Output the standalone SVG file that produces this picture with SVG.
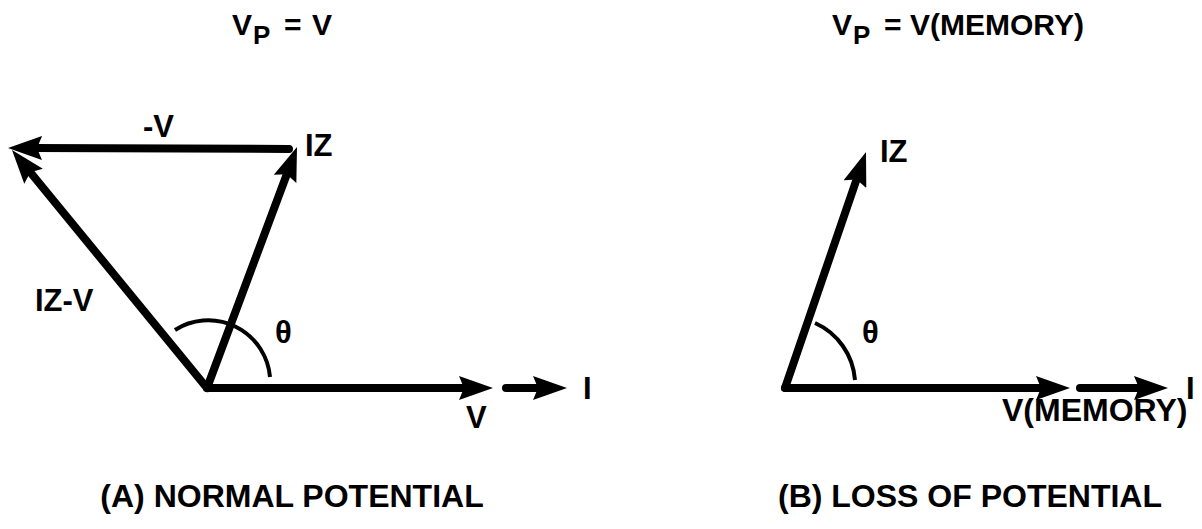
<svg xmlns="http://www.w3.org/2000/svg" width="1202" height="529" viewBox="0 0 1202 529">
<style>
  text { font-family: "Liberation Sans", Arial, sans-serif; font-weight: bold; fill: #000; font-size: 31px; }
  .ttl { font-size: 30px; }
  .sub { font-size: 26px; }
  .cap { font-size: 32px; }
  .vec { stroke: #000; stroke-width: 8; fill: none; stroke-linecap: round; marker-end: url(#ah); }
  .arc { stroke: #000; stroke-width: 4; fill: none; }
</style>
<defs>
  <marker id="ah" viewBox="0 0 34 24" refX="10" refY="12" markerWidth="34" markerHeight="24" markerUnits="userSpaceOnUse" orient="auto">
    <path d="M0,0 L34,12 L0,24 L5,12 Z" fill="#000"/>
  </marker>
</defs>
<rect width="1202" height="529" fill="#fff"/>

<g id="title-a">
  <text class="ttl" x="232" y="35">V</text>
  <text class="sub" x="253" y="44">P</text>
  <text class="ttl" x="284" y="35">=</text>
  <text class="ttl" x="312" y="35">V</text>
</g>
<g id="title-b">
  <text class="ttl" x="832" y="35">V</text>
  <text class="sub" x="853" y="44">P</text>
  <text class="ttl" x="884" y="35">=</text>
  <text class="ttl" x="910" y="35">V(MEMORY)</text>
</g>

<g id="connectors">
  <line class="vec" x1="207" y1="388" x2="469" y2="388"/>
  <line class="vec" x1="506" y1="388" x2="543" y2="388"/>
  <line class="vec" x1="207" y1="388" x2="288.6" y2="169.5"/>
  <line class="vec" x1="289" y1="149" x2="32" y2="148"/>
  <line class="vec" x1="207" y1="388" x2="27.2" y2="168.5"/>
  <path class="arc" d="M175,330 A62,62 0 0 1 270,377"/>

  <line class="vec" x1="785" y1="388" x2="1046" y2="388"/>
  <line class="vec" x1="1080" y1="388" x2="1144" y2="388"/>
  <line class="vec" x1="785" y1="388" x2="858.2" y2="174.7"/>
  <path class="arc" d="M815,323 A68,68 0 0 1 855,380"/>
</g>

<g id="labels-a">
  <text x="143" y="137">-V</text>
  <text x="305" y="156">IZ</text>
  <text x="35" y="311">IZ-V</text>
  <text x="275" y="343">θ</text>
  <text x="466" y="428">V</text>
  <text x="583" y="399">I</text>
  <text class="cap" x="292" y="507" text-anchor="middle">(A) NORMAL POTENTIAL</text>
</g>
<g id="labels-b">
  <text x="880" y="162">IZ</text>
  <text x="862" y="343">θ</text>
  <text x="1186" y="399">I</text>
  <text class="cap" x="1002" y="421">V(MEMORY)</text>
  <text class="cap" x="970" y="507" text-anchor="middle">(B) LOSS OF POTENTIAL</text>
</g>
</svg>
